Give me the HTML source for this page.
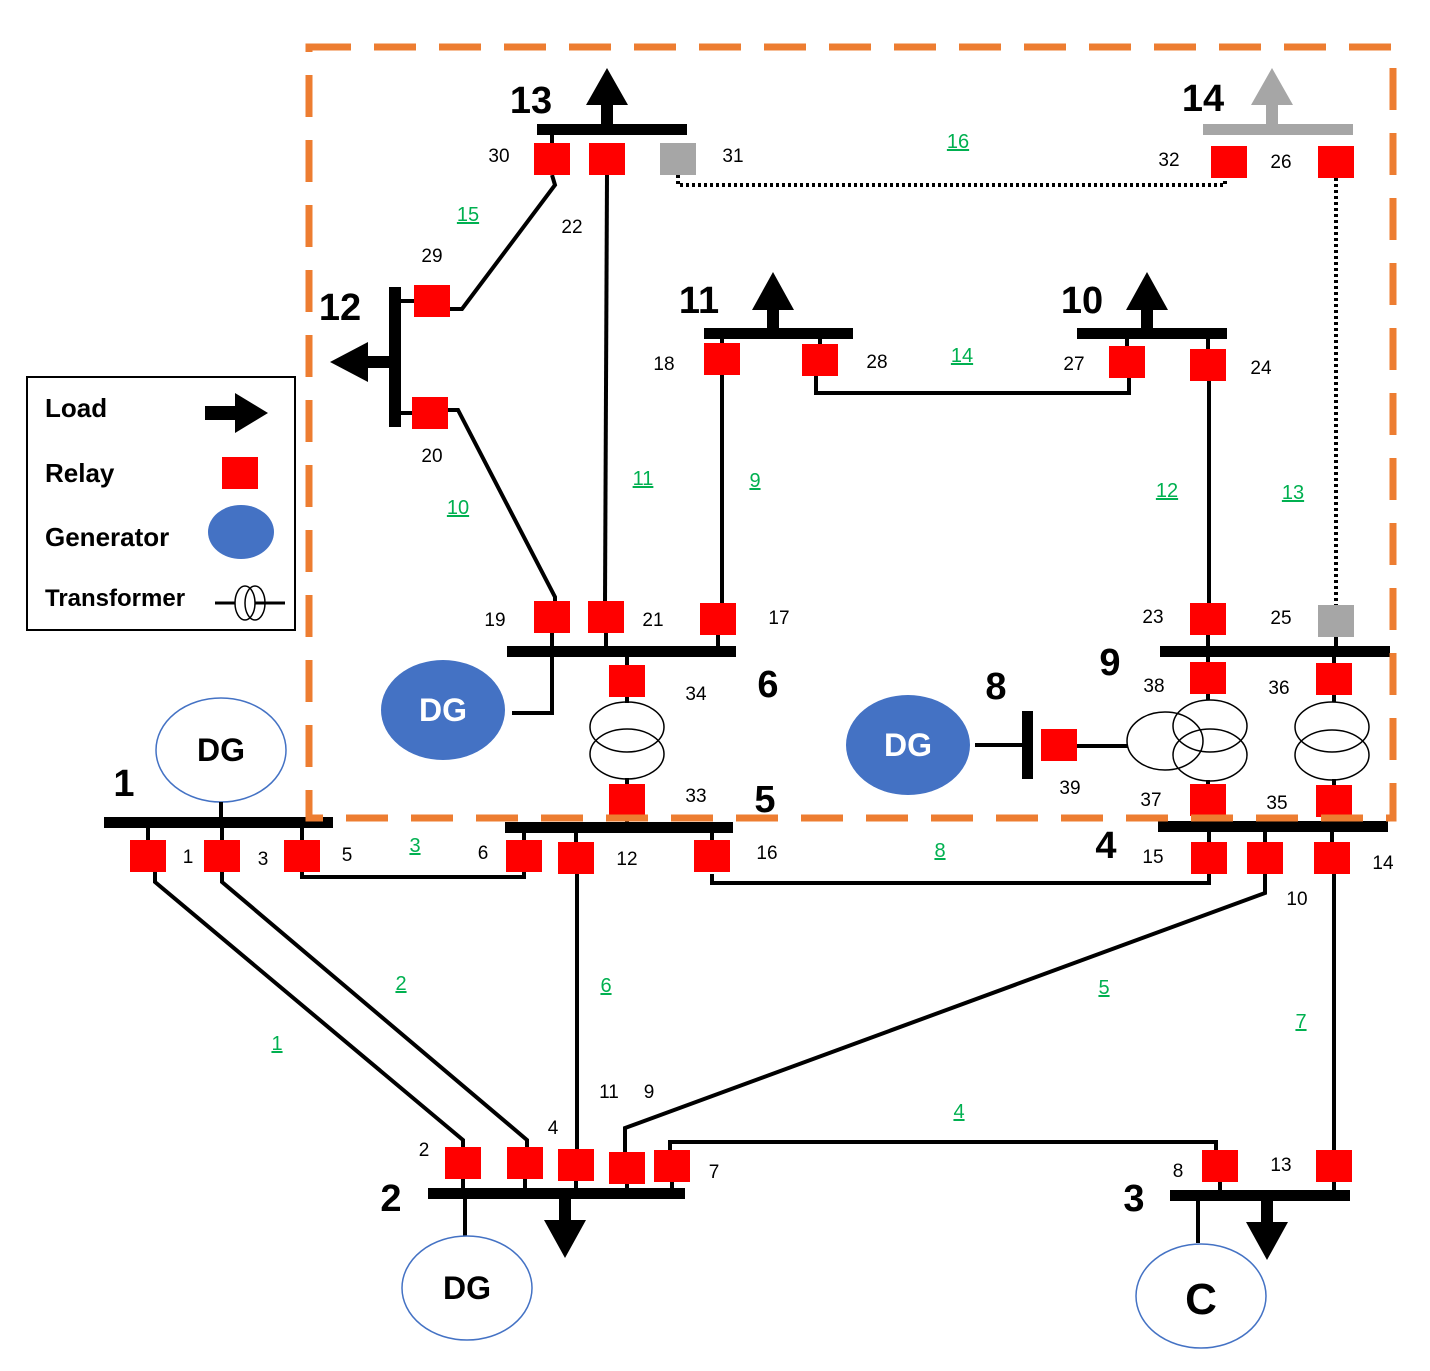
<!DOCTYPE html>
<html><head><meta charset="utf-8"><style>
html,body{margin:0;padding:0;background:#fff}
svg{display:block}
text{font-family:"Liberation Sans",sans-serif}
.n{font-size:19px;fill:#000}
.g{font-size:20px;fill:#00B050;text-decoration:underline}
.b{font-size:38px;font-weight:bold;fill:#000}
.dg{font-size:32px;font-weight:bold}
</style></head><body>
<svg width="1430" height="1371" viewBox="0 0 1430 1371" xmlns="http://www.w3.org/2000/svg">
<g stroke="#000" stroke-width="4" fill="none">
<polyline points="552,175 555,185 462,309 450,309"/>
<line x1="607" y1="175" x2="605" y2="603"/>
<polyline points="448,410 458,410 555,597 555,603"/>
<line x1="722" y1="375" x2="722" y2="603"/>
<polyline points="816,376 816,393 1129,393 1129,378"/>
<line x1="1209" y1="380" x2="1209" y2="603"/>
<polyline points="552,651 552,713 512,713"/>
<polyline points="155,872 155,882 463,1140 463,1150"/>
<polyline points="222,872 222,882 527,1140 527,1150"/>
<polyline points="302,872 302,877 524,877 524,872"/>
<line x1="577" y1="874" x2="577" y2="1150"/>
<polyline points="712,874 712,883 1209,883 1209,874"/>
<polyline points="1265,874 1265,893 625,1128 625,1152"/>
<line x1="1334" y1="874" x2="1334" y2="1150"/>
<polyline points="670,1150 670,1142 1216,1142 1216,1150"/>
<line x1="465" y1="1193" x2="465" y2="1237"/>
<line x1="1198" y1="1195" x2="1198" y2="1243"/>
<line x1="975" y1="745" x2="1028" y2="745"/>
<line x1="1077" y1="746" x2="1128" y2="746"/>
<!-- transformer stubs -->
<line x1="627" y1="651" x2="627" y2="666"/>
<line x1="627" y1="696" x2="627" y2="703"/>
<line x1="627" y1="778" x2="627" y2="785"/>
<line x1="627" y1="815" x2="627" y2="827"/>
<line x1="1208" y1="651" x2="1208" y2="663"/>
<line x1="1208" y1="693" x2="1208" y2="700"/>
<line x1="1208" y1="780" x2="1208" y2="785"/>
<line x1="1208" y1="815" x2="1208" y2="826"/>
<line x1="1334" y1="651" x2="1334" y2="664"/>
<line x1="1334" y1="694" x2="1334" y2="702"/>
<line x1="1334" y1="779" x2="1334" y2="786"/>
<line x1="1334" y1="816" x2="1334" y2="826"/>
<line x1="148" y1="822" x2="148" y2="856"/>
<line x1="222" y1="822" x2="222" y2="856"/>
<line x1="302" y1="822" x2="302" y2="856"/>
<line x1="524" y1="827" x2="524" y2="856"/>
<line x1="576" y1="827" x2="576" y2="856"/>
<line x1="712" y1="827" x2="712" y2="856"/>
<line x1="1209" y1="826" x2="1209" y2="858"/>
<line x1="1265" y1="826" x2="1265" y2="858"/>
<line x1="1332" y1="826" x2="1332" y2="858"/>
<line x1="463" y1="1163" x2="463" y2="1193"/>
<line x1="525" y1="1163" x2="525" y2="1193"/>
<line x1="576" y1="1163" x2="576" y2="1193"/>
<line x1="627" y1="1168" x2="627" y2="1193"/>
<line x1="672" y1="1166" x2="672" y2="1193"/>
<line x1="1220" y1="1166" x2="1220" y2="1195"/>
<line x1="1334" y1="1166" x2="1334" y2="1195"/>
<line x1="552" y1="129" x2="552" y2="159"/>
<line x1="722" y1="333" x2="722" y2="359"/>
<line x1="820" y1="333" x2="820" y2="360"/>
<line x1="1127" y1="333" x2="1127" y2="362"/>
<line x1="1208" y1="333" x2="1208" y2="365"/>
<line x1="552" y1="617" x2="552" y2="651"/>
<line x1="606" y1="617" x2="606" y2="651"/>
<line x1="718" y1="619" x2="718" y2="651"/>
<line x1="1208" y1="619" x2="1208" y2="651"/>
<line x1="1336" y1="621" x2="1336" y2="651"/>
<line x1="395" y1="301" x2="432" y2="301"/>
<line x1="395" y1="413" x2="430" y2="413"/>
</g>
<g stroke="#000" stroke-width="4" fill="none" stroke-dasharray="3,3">
<polyline points="678,175 678,185 1225,185 1225,162"/>
<line x1="1336" y1="178" x2="1336" y2="605"/>
</g>
<g fill="#000">
<rect x="537" y="124" width="150" height="11"/>
<rect x="704" y="328" width="149" height="11"/>
<rect x="1077" y="328" width="150" height="11"/>
<rect x="389" y="287" width="12" height="140"/>
<rect x="507" y="646" width="229" height="11"/>
<rect x="1160" y="646" width="230" height="11"/>
<rect x="104" y="817" width="229" height="11"/>
<rect x="505" y="822" width="228" height="11"/>
<rect x="1158" y="821" width="230" height="11"/>
<rect x="428" y="1188" width="257" height="11"/>
<rect x="1170" y="1190" width="180" height="11"/>
<rect x="1022" y="711" width="11" height="68"/>
<polygon points="601,129 613,129 613,105 628,105 607,68 586,105 601,105"/>
<polygon points="767,333 779,333 779,310 794,310 773,272 752,310 767,310"/>
<polygon points="1141,333 1153,333 1153,310 1168,310 1147,272 1126,310 1141,310"/>
<polygon points="395,356 395,368 368,368 368,382 330,362 368,342 368,356"/>
<polygon points="559,1193 571,1193 571,1220 586,1220 565,1258 544,1220 559,1220"/>
<polygon points="1261,1195 1273,1195 1273,1222 1288,1222 1267,1260 1246,1222 1261,1222"/>
</g>
<rect x="1203" y="124" width="150" height="11" fill="#A6A6A6"/>
<polygon points="1266,129 1278,129 1278,105 1293,105 1272,68 1251,105 1266,105" fill="#A6A6A6"/>
<g stroke="#000" stroke-width="1.5" fill="none">
<ellipse cx="627" cy="727" rx="37" ry="25"/>
<ellipse cx="627" cy="754" rx="37" ry="25"/>
<ellipse cx="1165" cy="741" rx="38" ry="29"/>
<ellipse cx="1210" cy="726" rx="37" ry="26"/>
<ellipse cx="1210" cy="755" rx="37" ry="26"/>
<ellipse cx="1332" cy="727" rx="37" ry="25"/>
<ellipse cx="1332" cy="755" rx="37" ry="25"/>
</g>
<g fill="#FF0000">
<rect x="534" y="143" width="36" height="32"/>
<rect x="589" y="143" width="36" height="32"/>
<rect x="1211" y="146" width="36" height="32"/>
<rect x="1318" y="146" width="36" height="32"/>
<rect x="414" y="285" width="36" height="32"/>
<rect x="412" y="397" width="36" height="32"/>
<rect x="704" y="343" width="36" height="32"/>
<rect x="802" y="344" width="36" height="32"/>
<rect x="1109" y="346" width="36" height="32"/>
<rect x="1190" y="349" width="36" height="32"/>
<rect x="534" y="601" width="36" height="32"/>
<rect x="588" y="601" width="36" height="32"/>
<rect x="700" y="603" width="36" height="32"/>
<rect x="1190" y="603" width="36" height="32"/>
<rect x="609" y="665" width="36" height="32"/>
<rect x="1190" y="662" width="36" height="32"/>
<rect x="1316" y="663" width="36" height="32"/>
<rect x="609" y="784" width="36" height="32"/>
<rect x="1190" y="784" width="36" height="32"/>
<rect x="1316" y="785" width="36" height="32"/>
<rect x="1041" y="729" width="36" height="32"/>
<rect x="130" y="840" width="36" height="32"/>
<rect x="204" y="840" width="36" height="32"/>
<rect x="284" y="840" width="36" height="32"/>
<rect x="506" y="840" width="36" height="32"/>
<rect x="558" y="842" width="36" height="32"/>
<rect x="694" y="840" width="36" height="32"/>
<rect x="1191" y="842" width="36" height="32"/>
<rect x="1247" y="842" width="36" height="32"/>
<rect x="1314" y="842" width="36" height="32"/>
<rect x="445" y="1147" width="36" height="32"/>
<rect x="507" y="1147" width="36" height="32"/>
<rect x="558" y="1149" width="36" height="32"/>
<rect x="609" y="1152" width="36" height="32"/>
<rect x="654" y="1150" width="36" height="32"/>
<rect x="1202" y="1150" width="36" height="32"/>
<rect x="1316" y="1150" width="36" height="32"/>
</g>
<rect x="660" y="143" width="36" height="32" fill="#A6A6A6"/>
<rect x="1318" y="605" width="36" height="32" fill="#A6A6A6"/>
<ellipse cx="443" cy="710" rx="62" ry="50" fill="#4472C4"/>
<text x="443" y="721" class="dg" fill="#fff" text-anchor="middle">DG</text>
<ellipse cx="908" cy="745" rx="62" ry="50" fill="#4472C4"/>
<text x="908" y="756" class="dg" fill="#fff" text-anchor="middle">DG</text>
<g fill="#fff" stroke="#4472C4" stroke-width="1.5">
<ellipse cx="221" cy="750" rx="65" ry="52"/>
<ellipse cx="467" cy="1288" rx="65" ry="52"/>
<ellipse cx="1201" cy="1296" rx="65" ry="52"/>
</g>
<line x1="221" y1="802" x2="221" y2="822" stroke="#000" stroke-width="4"/>
<text x="221" y="761" class="dg" text-anchor="middle">DG</text>
<text x="467" y="1299" class="dg" text-anchor="middle">DG</text>
<text x="1201" y="1314" font-size="44" font-weight="bold" text-anchor="middle" style="font-family:'Liberation Sans',sans-serif">C</text>
<g text-anchor="middle">
<text x="531" y="113" class="b">13</text>
<text x="1203" y="111" class="b">14</text>
<text x="340" y="320" class="b">12</text>
<text x="699" y="313" class="b">11</text>
<text x="1082" y="313" class="b">10</text>
<text x="768" y="697" class="b">6</text>
<text x="1110" y="675" class="b">9</text>
<text x="996" y="699" class="b">8</text>
<text x="765" y="812" class="b">5</text>
<text x="1106" y="858" class="b">4</text>
<text x="124" y="796" class="b">1</text>
<text x="391" y="1211" class="b">2</text>
<text x="1134" y="1211" class="b">3</text>
</g>
<g class="n" text-anchor="middle">
<text x="499" y="162">30</text><text x="733" y="162">31</text>
<text x="1169" y="166">32</text><text x="1281" y="168">26</text>
<text x="572" y="233">22</text><text x="432" y="262">29</text>
<text x="432" y="462">20</text>
<text x="664" y="370">18</text><text x="877" y="368">28</text>
<text x="1074" y="370">27</text><text x="1261" y="374">24</text>
<text x="495" y="626">19</text><text x="653" y="626">21</text><text x="779" y="624">17</text>
<text x="1153" y="623">23</text><text x="1281" y="624">25</text>
<text x="696" y="700">34</text><text x="1154" y="692">38</text><text x="1279" y="694">36</text>
<text x="696" y="802">33</text><text x="1151" y="806">37</text><text x="1277" y="809">35</text>
<text x="1070" y="794">39</text>
<text x="188" y="863">1</text><text x="263" y="865">3</text><text x="347" y="861">5</text>
<text x="483" y="859">6</text><text x="627" y="865">12</text><text x="767" y="859">16</text>
<text x="1153" y="863">15</text><text x="1297" y="905">10</text><text x="1383" y="869">14</text>
<text x="609" y="1098">11</text><text x="649" y="1098">9</text>
<text x="553" y="1134">4</text><text x="424" y="1156">2</text><text x="714" y="1178">7</text>
<text x="1178" y="1177">8</text><text x="1281" y="1171">13</text>
</g>
<g class="g" text-anchor="middle">
<text x="958" y="148">16</text><text x="468" y="221">15</text>
<text x="962" y="362">14</text><text x="643" y="485">11</text>
<text x="755" y="487">9</text><text x="458" y="514">10</text>
<text x="1167" y="497">12</text><text x="1293" y="499">13</text>
<text x="415" y="852">3</text><text x="940" y="857">8</text>
<text x="401" y="990">2</text><text x="606" y="992">6</text>
<text x="1104" y="994">5</text><text x="277" y="1050">1</text>
<text x="1301" y="1028">7</text><text x="959" y="1118">4</text>
</g>
<rect x="27" y="377" width="268" height="253" fill="#fff" stroke="#000" stroke-width="2"/>
<text x="45" y="417" font-size="26" font-weight="bold">Load</text>
<text x="45" y="482" font-size="26" font-weight="bold">Relay</text>
<text x="45" y="546" font-size="26" font-weight="bold">Generator</text>
<text x="45" y="606" font-size="24" font-weight="bold">Transformer</text>
<polygon points="205,406 235,406 235,393 268,413 235,433 235,420 205,420" fill="#000"/>
<rect x="222" y="457" width="36" height="32" fill="#FF0000"/>
<ellipse cx="241" cy="532" rx="33" ry="27" fill="#4472C4"/>
<line x1="215" y1="603" x2="285" y2="603" stroke="#000" stroke-width="3"/>
<ellipse cx="245" cy="603" rx="10" ry="17" fill="#fff" stroke="#000" stroke-width="1.5"/>
<ellipse cx="255" cy="603" rx="10" ry="17" fill="none" stroke="#000" stroke-width="1.5"/>
<rect x="309" y="47" width="1084" height="771" fill="none" stroke="#ED7D31" stroke-width="7" stroke-dasharray="42,23"/>
</svg>
</body></html>
